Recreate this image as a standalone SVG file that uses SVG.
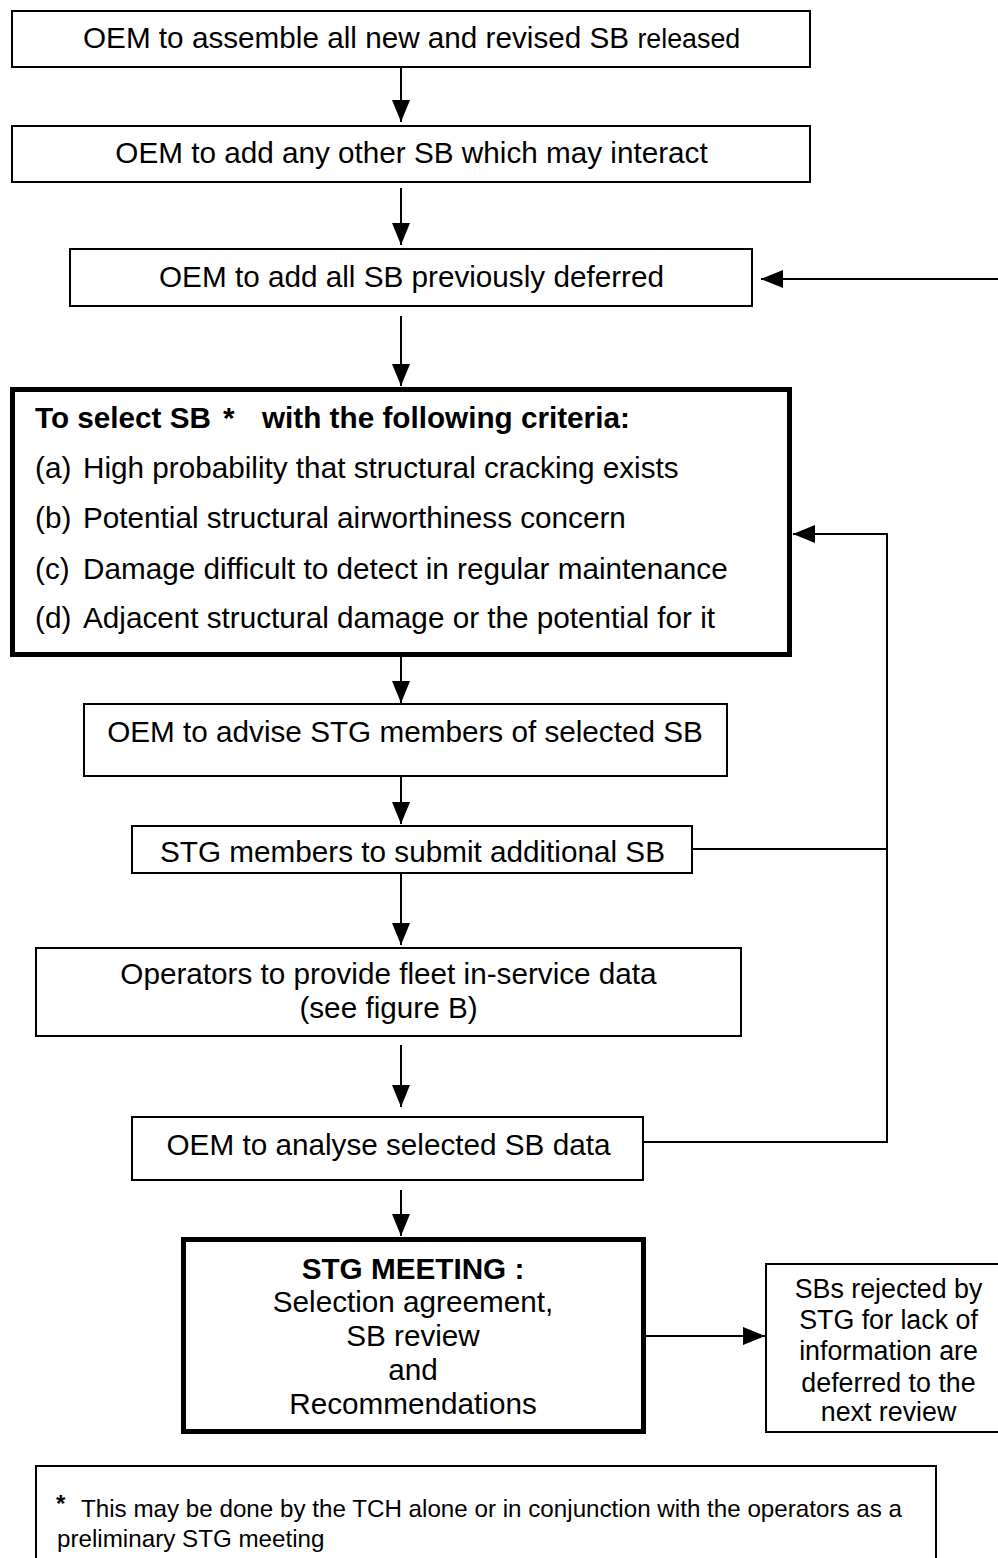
<svg xmlns="http://www.w3.org/2000/svg" width="998" height="1558" viewBox="0 0 998 1558">
<style>
  .box { fill: #fff; stroke: #000; stroke-width: 2; }
  .thick { fill: #fff; stroke: #000; stroke-width: 5; }
  .t { font-family: "Liberation Sans", Arial, sans-serif; font-size: 29.7px; fill: #000; }
  .c { text-anchor: middle; }
  .b { font-weight: bold; }
  .s { font-family: "Liberation Sans", Arial, sans-serif; font-size: 26.8px; fill: #000; text-anchor: middle; }
  .f { font-family: "Liberation Sans", Arial, sans-serif; font-size: 24.2px; fill: #000; }
  .ln { fill: none; stroke: #000; stroke-width: 2; }
</style>
<defs>
  <marker id="ah" markerUnits="userSpaceOnUse" markerWidth="24" markerHeight="20" refX="22" refY="9" orient="auto">
    <path d="M0,0 L22,9 L0,18 Z" fill="#000"/>
  </marker>
</defs>
<rect width="998" height="1558" fill="#fff"/>

<g id="connectors">
  <line class="ln" x1="401" y1="67" x2="401" y2="122" marker-end="url(#ah)"/>
  <line class="ln" x1="401" y1="188" x2="401" y2="245" marker-end="url(#ah)"/>
  <line class="ln" x1="998" y1="279" x2="761" y2="279" marker-end="url(#ah)"/>
  <line class="ln" x1="401" y1="316" x2="401" y2="386" marker-end="url(#ah)"/>
  <line class="ln" x1="401" y1="657" x2="401" y2="703" marker-end="url(#ah)"/>
  <line class="ln" x1="401" y1="777" x2="401" y2="824" marker-end="url(#ah)"/>
  <line class="ln" x1="401" y1="874" x2="401" y2="945" marker-end="url(#ah)"/>
  <line class="ln" x1="401" y1="1045" x2="401" y2="1107" marker-end="url(#ah)"/>
  <line class="ln" x1="401" y1="1190" x2="401" y2="1236" marker-end="url(#ah)"/>
  <polyline class="ln" points="643,1142 887,1142 887,534 793,534" marker-end="url(#ah)"/>
  <line class="ln" x1="692" y1="849" x2="887" y2="849"/>
  <line class="ln" x1="646" y1="1336" x2="765" y2="1336" marker-end="url(#ah)"/>
</g>

<g id="n1">
  <rect class="box" x="12" y="11" width="798" height="56"/>
  <text class="t" x="83" y="48">OEM to assemble all new and revised SB <tspan font-size="26.8">released</tspan></text>
</g>
<g id="n2">
  <rect class="box" x="12" y="126" width="798" height="56"/>
  <text class="t c" x="411.5" y="163">OEM to add any other SB which may interact</text>
</g>
<g id="n3">
  <rect class="box" x="70" y="249" width="682" height="57"/>
  <text class="t c" x="411.5" y="287">OEM to add all SB previously deferred</text>
</g>
<g id="n4">
  <rect class="thick" x="12.5" y="389.5" width="777" height="265"/>
  <text class="t b" x="35" y="428">To select SB</text>
  <text class="t b" x="223" y="428">*</text>
  <text class="t b" x="262" y="428">with the following criteria:</text>
  <text class="t" x="35" y="478">(a)</text>
  <text class="t" x="83" y="478">High probability that structural cracking exists</text>
  <text class="t" x="35" y="528">(b)</text>
  <text class="t" x="83" y="528">Potential structural airworthiness concern</text>
  <text class="t" x="35" y="579">(c)</text>
  <text class="t" x="83" y="579">Damage difficult to detect in regular maintenance</text>
  <text class="t" x="35" y="628">(d)</text>
  <text class="t" x="83" y="628">Adjacent structural damage or the potential for it</text>
</g>
<g id="n5">
  <rect class="box" x="84" y="704" width="643" height="72"/>
  <text class="t c" x="405" y="742">OEM to advise STG members of selected SB</text>
</g>
<g id="n6">
  <rect class="box" x="132" y="826" width="560" height="47"/>
  <text class="t c" x="412.5" y="862">STG members to submit additional SB</text>
</g>
<g id="n7">
  <rect class="box" x="36" y="948" width="705" height="88"/>
  <text class="t c" x="388.5" y="984">Operators to provide fleet in-service data</text>
  <text class="t c" x="388.5" y="1018">(see figure B)</text>
</g>
<g id="n8">
  <rect class="box" x="132" y="1117" width="511" height="63"/>
  <text class="t c" x="388.5" y="1155">OEM to analyse selected SB data</text>
</g>
<g id="n9">
  <rect class="thick" x="183.5" y="1239.5" width="460" height="192"/>
  <text class="t c b" x="413" y="1279">STG MEETING :</text>
  <text class="t c" x="413" y="1312">Selection agreement,</text>
  <text class="t c" x="413" y="1346">SB review</text>
  <text class="t c" x="413" y="1380">and</text>
  <text class="t c" x="413" y="1414">Recommendations</text>
</g>
<g id="n10">
  <rect class="box" x="766" y="1264" width="240" height="168"/>
  <text class="s" x="888.5" y="1298">SBs rejected by</text>
  <text class="s" x="888.5" y="1329">STG for lack of</text>
  <text class="s" x="888.5" y="1360">information are</text>
  <text class="s" x="888.5" y="1392">deferred to the</text>
  <text class="s" x="888.5" y="1421">next review</text>
</g>
<g id="n11">
  <rect class="box" x="36" y="1466" width="900" height="110"/>
  <text class="f b" x="56" y="1512" font-size="42">*</text>
  <text class="f" x="81" y="1517">This may be done by the TCH alone or in conjunction with the operators as a</text>
  <text class="f" x="57" y="1547">preliminary STG meeting</text>
</g>
</svg>
